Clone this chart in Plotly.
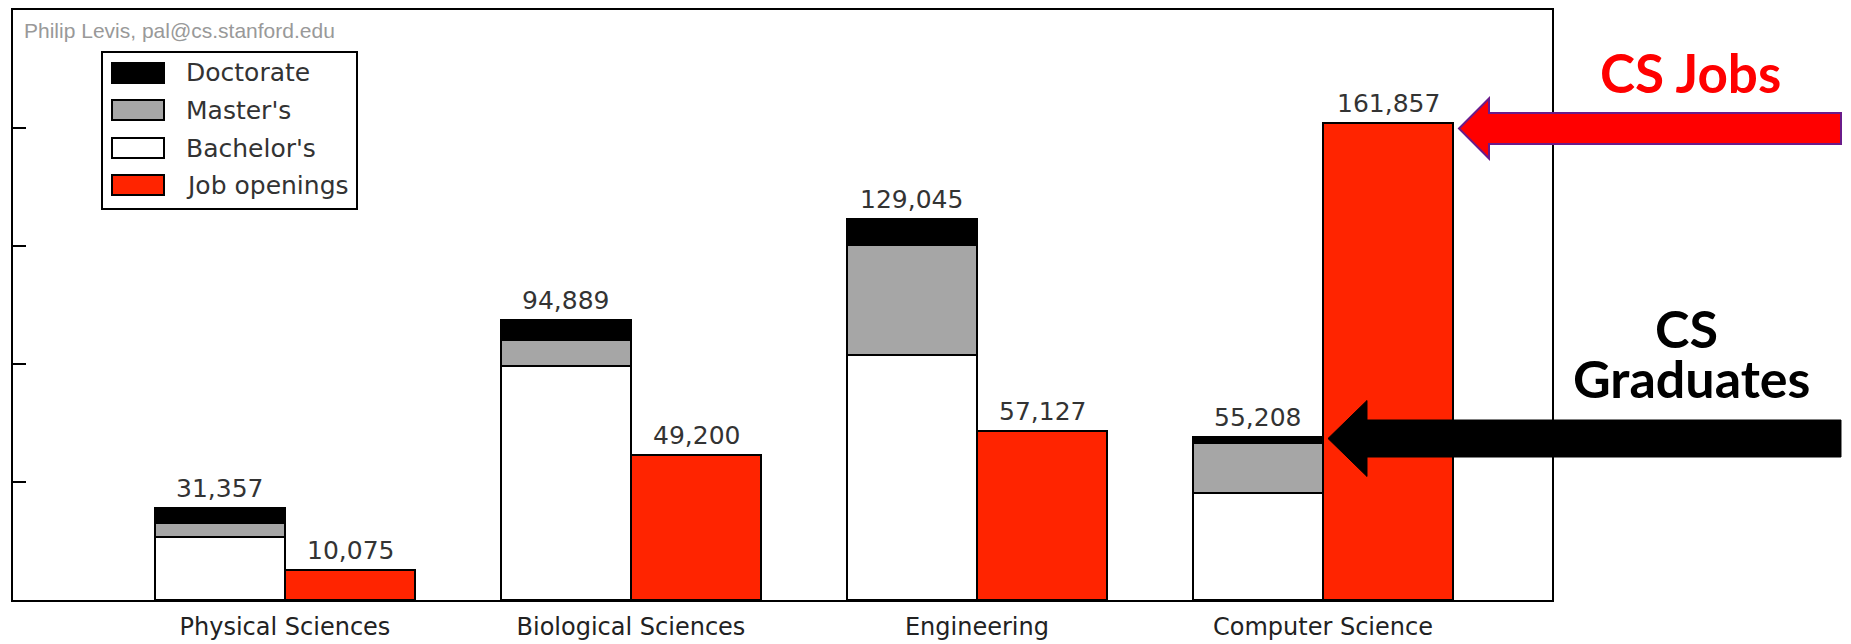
import plotly.graph_objects as go

categories = ["Physical Sciences", "Biological Sciences", "Engineering", "Computer Science"]
bachelors = [21200, 79300, 83100, 36300]
masters = [5000, 8700, 37400, 16900]
doctorates = [5157, 6889, 8545, 2008]
grad_totals = [31357, 94889, 129045, 55208]
job_openings = [10075, 49200, 57127, 161857]
y_ticks = [40000, 80000, 120000, 160000]

W, H = 1851, 644
L, R, T, B = 13, 299, 10, 44
PW, PH = W - L - R, H - T - B

def px(x):
    return (x - L) / PW

def py(y):
    return (H - B - y) / PH

BW = 0.376
xg = [i - BW / 2 for i in range(len(categories))]
xj = [i + BW / 2 for i in range(len(categories))]
line = dict(color="black", width=2)

fig = go.Figure()
fig.add_bar(x=xg, y=bachelors, width=BW, marker=dict(color="white", line=line), name="Bachelor's", showlegend=False)
fig.add_bar(x=xg, y=masters, width=BW, marker=dict(color="#a6a6a6", line=line), name="Master's", showlegend=False)
fig.add_bar(x=xg, y=doctorates, width=BW, marker=dict(color="black", line=line), name="Doctorate", showlegend=False)
fig.add_bar(x=xj, y=job_openings, width=BW, marker=dict(color="#ff2400", line=line), name="Job openings", showlegend=False)

annotations = []
lblfont = dict(family="DejaVu Sans", size=25, color="#333333")
for x, v in zip(xg, grad_totals):
    annotations.append(dict(x=x, y=v, xref="x", yref="y", text=f"{v:,}", showarrow=False,
                            yanchor="bottom", yshift=3, font=lblfont))
for x, v in zip(xj, job_openings):
    annotations.append(dict(x=x, y=v, xref="x", yref="y", text=f"{v:,}", showarrow=False,
                            yanchor="bottom", yshift=3, font=lblfont))

# credit
annotations.append(dict(x=px(22), y=py(30), xref="paper", yref="paper", text="Philip Levis, pal@cs.stanford.edu",
                        showarrow=False, xanchor="left", yanchor="middle",
                        font=dict(family="Liberation Sans", size=21, color="#999999")))

shapes = []
# legend box
shapes.append(dict(type="rect", xref="paper", yref="paper", x0=px(102), x1=px(357), y0=py(52), y1=py(209),
                   line=dict(color="black", width=2), fillcolor="white", layer="above"))
legend_items = [("Doctorate", "black"), ("Master's", "#a6a6a6"), ("Bachelor's", "white"), ("Job openings", "#ff2400")]
rows = [73, 110, 148, 185]
for (name, col), yc in zip(legend_items, rows):
    shapes.append(dict(type="rect", xref="paper", yref="paper", x0=px(112), x1=px(164), y0=py(yc - 10), y1=py(yc + 10),
                       line=dict(color="black", width=2), fillcolor=col, layer="above"))
    annotations.append(dict(x=px(184), y=py(yc), xref="paper", yref="paper", text=name, showarrow=False,
                            xanchor="left", yanchor="middle", font=lblfont))

def arrow_path(tip_x, yc, head_x, shaft_half, head_half, end_x):
    pts = [(tip_x, yc), (head_x, yc - head_half), (head_x, yc - shaft_half), (end_x, yc - shaft_half),
           (end_x, yc + shaft_half), (head_x, yc + shaft_half), (head_x, yc + head_half)]
    return "M " + " L ".join(f"{px(a):.5f},{py(b):.5f}" for a, b in pts) + " Z"

shapes.append(dict(type="path", xref="paper", yref="paper", path=arrow_path(1459, 128.5, 1489, 15.5, 30, 1841),
                   fillcolor="#ff0000", line=dict(color="#6a1b8a", width=2), layer="above"))
shapes.append(dict(type="path", xref="paper", yref="paper", path=arrow_path(1328, 438.5, 1367, 18.5, 38, 1841),
                   fillcolor="black", line=dict(color="black", width=1), layer="above"))

bigfont_r = dict(family="Lato", size=53, color="#ff0000", weight="bold")
bigfont_k = dict(family="Lato", size=52, color="black", weight="bold")
annotations.append(dict(x=px(1690), y=py(72), xref="paper", yref="paper", text="<b>CS Jobs</b>", showarrow=False,
                        xanchor="center", yanchor="middle", font=bigfont_r))
annotations.append(dict(x=px(1686), y=py(328), xref="paper", yref="paper", text="<b>CS</b>", showarrow=False,
                        xanchor="center", yanchor="middle", font=bigfont_k))
annotations.append(dict(x=px(1691), y=py(378), xref="paper", yref="paper", text="<b>Graduates</b>", showarrow=False,
                        xanchor="center", yanchor="middle", font=bigfont_k))

fig.update_layout(
    width=W, height=H, margin=dict(l=L, r=R, t=T, b=B, autoexpand=False),
    barmode="stack", bargap=0, plot_bgcolor="white", paper_bgcolor="white",
    shapes=shapes, annotations=annotations, showlegend=False,
)
fig.update_xaxes(range=[-0.786, 3.662], tickvals=list(range(len(categories))), ticktext=categories,
                 tickfont=dict(family="DejaVu Sans", size=24, color="#222222"), ticks="",
                 ticklabelstandoff=4, showline=True, linecolor="black", linewidth=2, mirror=True,
                 showgrid=False, zeroline=False)
fig.update_yaxes(range=[0, 200000], tickvals=y_ticks, showticklabels=False, ticks="inside", ticklen=13,
                 tickwidth=1.5, tickcolor="black", showline=True, linecolor="black", linewidth=2, mirror=True,
                 showgrid=False, zeroline=False)

fig.write_html("out.html", config={"displayModeBar": False},
               post_script="document.body.style.margin='0px';")
